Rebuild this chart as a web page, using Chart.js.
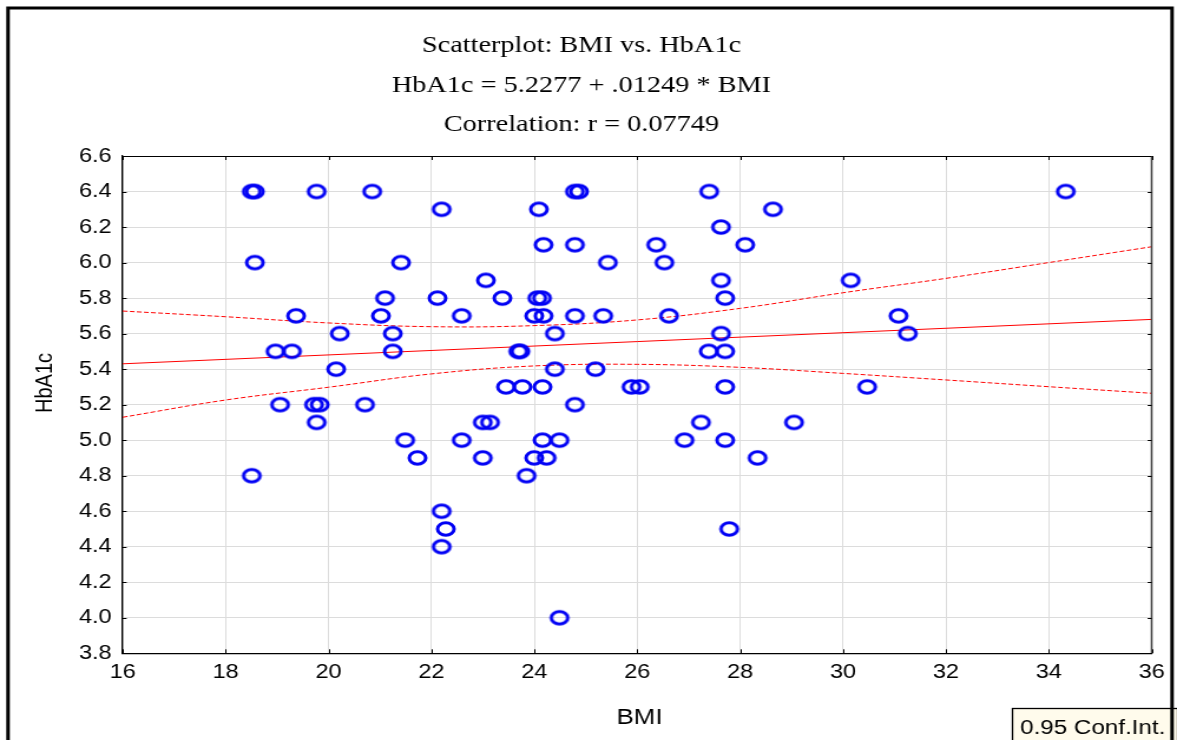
<!DOCTYPE html>
<html>
<head>
<meta charset="utf-8">
<script src="https://cdn.jsdelivr.net/npm/chart.js@4.4.1/dist/chart.umd.min.js"></script>
<style>
html,body{margin:0;padding:0;background:#fff;overflow:hidden}
canvas{display:block}
</style>
</head>
<body>
<canvas id="c" width="998" height="740" style="width:1177px;height:740px"></canvas>
<script>
// ---- data ----
const bmi = [
  18.51, 18.57, 19.77, 20.85, 24.79, 24.87, 27.40, 34.33,
  22.20, 24.09, 28.64,
  27.63,
  24.18, 24.79, 26.37, 28.10,
  18.57, 21.41, 25.43, 26.53,
  23.06, 27.63, 30.15,
  21.10, 22.12, 23.38, 24.06, 24.15, 27.71,
  19.37, 21.02, 22.59, 24.00, 24.18, 24.79, 25.34, 26.62, 31.08,
  20.22, 21.25, 24.40, 27.63, 31.26,
  18.97, 19.29, 21.25, 23.69, 23.73, 27.39, 27.71,
  20.15, 24.40, 25.19,
  23.45, 23.77, 24.16, 25.89, 26.05, 27.71, 30.47,
  19.06, 19.72, 19.83, 20.71, 24.79,
  19.77, 23.00, 23.14, 27.24, 29.05,
  21.49, 22.59, 24.16, 24.49, 26.92, 27.71,
  21.73, 23.00, 24.00, 24.24, 28.34,
  18.51, 23.85,
  22.20,
  22.28, 27.79,
  22.20,
  24.49
];
const hba1c = [
  6.4, 6.4, 6.4, 6.4, 6.4, 6.4, 6.4, 6.4,
  6.3, 6.3, 6.3,
  6.2,
  6.1, 6.1, 6.1, 6.1,
  6.0, 6.0, 6.0, 6.0,
  5.9, 5.9, 5.9,
  5.8, 5.8, 5.8, 5.8, 5.8, 5.8,
  5.7, 5.7, 5.7, 5.7, 5.7, 5.7, 5.7, 5.7, 5.7,
  5.6, 5.6, 5.6, 5.6, 5.6,
  5.5, 5.5, 5.5, 5.5, 5.5, 5.5, 5.5,
  5.4, 5.4, 5.4,
  5.3, 5.3, 5.3, 5.3, 5.3, 5.3, 5.3,
  5.2, 5.2, 5.2, 5.2, 5.2,
  5.1, 5.1, 5.1, 5.1, 5.1,
  5.0, 5.0, 5.0, 5.0, 5.0, 5.0,
  4.9, 4.9, 4.9, 4.9, 4.9,
  4.8, 4.8,
  4.6,
  4.5, 4.5,
  4.4,
  4.0
];
const fitX = [16, 36];
const fitY = [5.43, 5.68];
const ciX     = [16,    18,    20,    22,    24,    26,    28,    30,    32,    34,    36];
const ciUpper = [5.727, 5.695, 5.660, 5.639, 5.645, 5.677, 5.742, 5.830, 5.911, 6.000, 6.089];
const ciLower = [5.129, 5.226, 5.298, 5.373, 5.418, 5.427, 5.410, 5.376, 5.339, 5.301, 5.264];
const xTickValues = [16, 18, 20, 22, 24, 26, 28, 30, 32, 34, 36];
const xTickLabels = ['16','18','20','22','24','26','28','30','32','34','36'];
const yTickValues = [3.8, 4.0, 4.2, 4.4, 4.6, 4.8, 5.0, 5.2, 5.4, 5.6, 5.8, 6.0, 6.2, 6.4, 6.6];
const yTickLabels = ['3.8','4.0','4.2','4.4','4.6','4.8','5.0','5.2','5.4','5.6','5.8','6.0','6.2','6.4','6.6'];
const titleLines = ['Scatterplot: BMI vs. HbA1c', 'HbA1c = 5.2277 + .01249 * BMI', 'Correlation: r = 0.07749'];
const xTitle = 'BMI';
const yTitle = 'HbA1c';
const legendText = '0.95 Conf.Int.';

// ---- helpers ----
function ringImage() {
  const c = document.createElement('canvas');
  c.width = 20; c.height = 18;
  const g = c.getContext('2d');
  g.strokeStyle = '#0000f4';
  g.lineWidth = 3;
  g.beginPath();
  g.ellipse(10, 9, 7, 6.15, 0, 0, Math.PI * 2);
  g.stroke();
  return c;
}
const toXY = (xs, ys) => xs.map((x, i) => ({x: x, y: ys[i]}));

const SANS = "'Liberation Sans', Arial, sans-serif";
const SERIF = "'Liberation Serif', 'Times New Roman', serif";

const decor = {
  id: 'decor',
  afterDraw(chart) {
    const ctx = chart.ctx;
    const a = chart.chartArea;
    const xs = chart.scales.x, ys = chart.scales.y;
    ctx.save();
    // plot frame (top and right)
    ctx.strokeStyle = '#000';
    ctx.lineWidth = 1;
    ctx.beginPath();
    ctx.moveTo(a.left, a.top + 0.5); ctx.lineTo(a.right, a.top + 0.5);
    ctx.stroke();
    ctx.strokeStyle = '#444';
    ctx.lineWidth = 1.6;
    ctx.beginPath();
    ctx.moveTo(a.right, a.top); ctx.lineTo(a.right, a.bottom);
    ctx.stroke();
    // inward ticks
    ctx.strokeStyle = '#000';
    ctx.lineWidth = 1;
    ctx.beginPath();
    xTickValues.forEach(v => {
      const p = Math.round(xs.getPixelForValue(v)) + 0.5;
      ctx.moveTo(p, a.bottom); ctx.lineTo(p, a.bottom - 4);
      ctx.moveTo(p, a.top); ctx.lineTo(p, a.top + 4);
    });
    yTickValues.forEach(v => {
      const p = Math.round(ys.getPixelForValue(v)) + 0.5;
      ctx.moveTo(a.left, p); ctx.lineTo(a.left + 3.4, p);
      ctx.moveTo(a.right, p); ctx.lineTo(a.right - 3.4, p);
    });
    ctx.stroke();
    // titles
    ctx.fillStyle = '#000';
    ctx.font = '24px ' + SERIF;
    ctx.textAlign = 'center';
    ctx.textBaseline = 'alphabetic';
    const tb = [51.5, 92, 130.5];
    titleLines.forEach((t, i) => ctx.fillText(t, 493, tb[i]));
    // axis titles
    ctx.font = '22px ' + SANS;
    ctx.fillText(xTitle, (a.left + a.right) / 2 + 2, 724);
    ctx.save();
    ctx.translate(38.5, 383);
    ctx.rotate(-Math.PI / 2);
    ctx.font = '20px ' + SANS;
    ctx.textBaseline = 'middle';
    ctx.fillText(yTitle, 0, 0);
    ctx.restore();
    // legend box
    ctx.fillStyle = '#fffbec';
    ctx.fillRect(858, 708, 140, 40);
    ctx.strokeStyle = '#000';
    ctx.lineWidth = 1.3;
    ctx.strokeRect(858.5, 708.5, 140, 40);
    ctx.fillStyle = '#000';
    ctx.font = '20.5px ' + SANS;
    ctx.textAlign = 'left';
    ctx.fillText(legendText, 865, 734);
    // outer frame
    ctx.strokeStyle = '#000';
    ctx.lineWidth = 3;
    ctx.strokeRect(6.8, 8, 987, 760);
    ctx.restore();
  }
};

new Chart(document.getElementById('c'), {
  type: 'scatter',
  data: {
    datasets: [
      {
        label: 'HbA1c',
        data: toXY(bmi, hba1c),
        pointStyle: ringImage(),
        pointRadius: 8,
        pointHoverRadius: 8,
        order: 0
      },
      {
        label: 'Fit',
        data: toXY(fitX, fitY),
        showLine: true,
        borderColor: '#ff0000',
        borderWidth: 1,
        pointRadius: 0,
        order: 1
      },
      {
        label: 'Upper 95%',
        data: toXY(ciX, ciUpper),
        showLine: true,
        borderColor: '#ff0000',
        borderWidth: 1,
        borderDash: [4, 2],
        tension: 0.4,
        pointRadius: 0,
        order: 2
      },
      {
        label: 'Lower 95%',
        data: toXY(ciX, ciLower),
        showLine: true,
        borderColor: '#ff0000',
        borderWidth: 1,
        borderDash: [4, 2],
        tension: 0.4,
        pointRadius: 0,
        order: 3
      }
    ]
  },
  options: {
    responsive: false,
    animation: false,
    devicePixelRatio: 1,
    layout: { padding: { left: 0, top: 156, right: 21.5, bottom: 0 } },
    plugins: {
      legend: { display: false },
      title: { display: false },
      tooltip: { enabled: false }
    },
    scales: {
      x: {
        type: 'linear',
        min: 16, max: 36,
        afterBuildTicks: s => { s.ticks = xTickValues.map(v => ({value: v})); },
        afterFit: s => { s.height = 86.7; },
        ticks: {
          padding: 7,
          color: '#000',
          font: { family: SANS, size: 20 },
          callback: (v) => xTickLabels[xTickValues.indexOf(v)] ?? ''
        },
        grid: { color: '#dcdcdc', lineWidth: 1, drawTicks: false },
        border: { display: true, color: '#000', width: 1.3 }
      },
      y: {
        type: 'linear',
        min: 3.8, max: 6.6,
        afterBuildTicks: s => { s.ticks = yTickValues.map(v => ({value: v})); },
        afterFit: s => { s.width = 104; },
        ticks: {
          padding: 9.3,
          color: '#000',
          font: { family: SANS, size: 20 },
          callback: (v) => {
            const i = yTickValues.findIndex(t => Math.abs(t - v) < 1e-9);
            return i >= 0 ? yTickLabels[i] : '';
          }
        },
        grid: { color: '#dcdcdc', lineWidth: 1, drawTicks: false },
        border: { display: true, color: '#000', width: 1.3 }
      }
    }
  },
  plugins: [decor]
});
</script>
</body>
</html>
